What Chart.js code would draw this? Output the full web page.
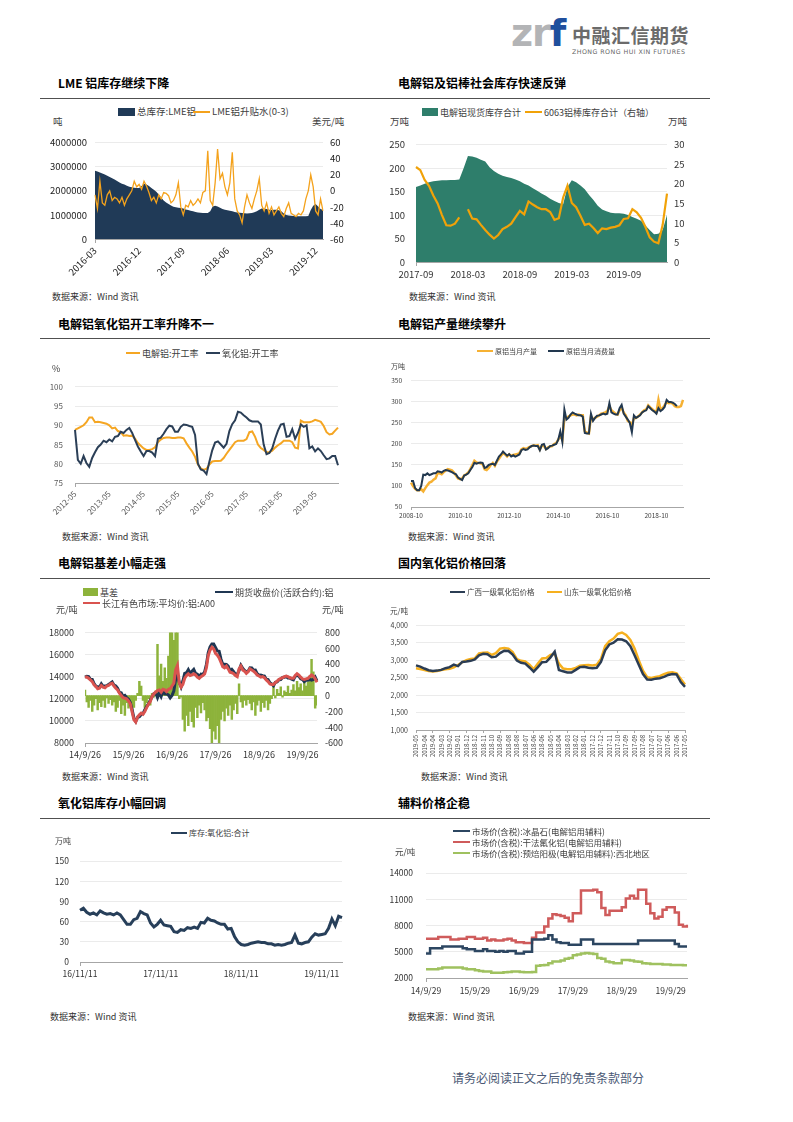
<!DOCTYPE html>
<html lang="zh-CN">
<head>
<meta charset="UTF-8">
<title>铝市场周报图表</title>
<style>
  body { margin: 0; background: #fff; font-family: "Noto Sans CJK SC", "Noto Sans", sans-serif; }
  #page { position: relative; width: 793px; height: 1122px; overflow: hidden; }
  .t { position: absolute; font-size: 12px; font-weight: 700; color: #000; line-height: 1; white-space: nowrap; }
  .rule { position: absolute; left: 40px; width: 670px; height: 1px; background: #505050; }
  .src { position: absolute; font-size: 9px; color: #333; line-height: 1; white-space: nowrap; }
  .u, .lg { position: absolute; color: #404040; line-height: 1; white-space: nowrap; }
  .lg { display: flex; align-items: center; }
  .sw { display: inline-block; margin-right: 2px; }
  canvas { position: absolute; }
  #zrf { position: absolute; left: 511px; top: 14px; font: bold 38px "DejaVu Sans", sans-serif; line-height: 38px; letter-spacing: -1px; }
  #zrf .g { color: #b3b4b6; } #zrf .b { color: #1f4f9d; }
  #cn { position: absolute; left: 572px; top: 25px; font-size: 19px; font-weight: 700; color: #6b6b6b; line-height: 1; letter-spacing: 0.5px; }
  #en { position: absolute; left: 572px; top: 48px; font: 6.3px "DejaVu Sans", sans-serif; color: #666; letter-spacing: 0.45px; white-space: nowrap; }
  #foot { position: absolute; left: 452px; top: 1072px; font-size: 12px; color: #4a5874; line-height: 1; }
</style>
</head>
<body>
<div id="page">
  <div id="zrf"><span class="g">zr</span><span class="b">f</span></div>
  <div id="cn">中融汇信期货</div>
  <div id="en">ZHONG RONG HUI XIN FUTURES</div>

  <div class="t" style="left:58px;top:77px">LME 铝库存继续下降</div>
  <div class="t" style="left:398px;top:77px">电解铝及铝棒社会库存快速反弹</div>
  <div class="rule" style="top:98px"></div>
  <div class="src" style="left:52px;top:292px">数据来源：Wind 资讯</div>
  <div class="src" style="left:409px;top:292px">数据来源：Wind 资讯</div>

  <div class="t" style="left:58px;top:318px">电解铝氧化铝开工率升降不一</div>
  <div class="t" style="left:398px;top:318px">电解铝产量继续攀升</div>
  <div class="rule" style="top:338px"></div>
  <div class="src" style="left:62px;top:532px">数据来源：Wind 资讯</div>
  <div class="src" style="left:408px;top:532px">数据来源：Wind 资讯</div>

  <div class="t" style="left:58px;top:557px">电解铝基差小幅走强</div>
  <div class="t" style="left:398px;top:557px">国内氧化铝价格回落</div>
  <div class="rule" style="top:578px"></div>
  <div class="src" style="left:62px;top:772px">数据来源：Wind 资讯</div>
  <div class="src" style="left:421px;top:772px">数据来源：Wind 资讯</div>

  <div class="t" style="left:58px;top:797px">氧化铝库存小幅回调</div>
  <div class="t" style="left:398px;top:797px">辅料价格企稳</div>
  <div class="rule" style="top:818px"></div>
  <div class="src" style="left:50px;top:1012px">数据来源：Wind 资讯</div>
  <div class="src" style="left:408px;top:1012px">数据来源：Wind 资讯</div>

  <div id="foot">请务必阅读正文之后的免责条款部分</div>

  <canvas id="c1"></canvas><canvas id="c2"></canvas><canvas id="c3"></canvas><canvas id="c4"></canvas>
  <canvas id="c5"></canvas><canvas id="c6"></canvas><canvas id="c7"></canvas><canvas id="c8"></canvas>
</div>

<script src="https://cdn.jsdelivr.net/npm/chart.js"></script>
<script>
// ---------- category helpers ----------
const pad2 = n => String(n).padStart(2, '0');
function monthly(y, m, n, fmt) {
  const out = [];
  for (let i = 0; i < n; i++) { const k = m - 1 + i; out.push(fmt(y + Math.floor(k / 12), k % 12 + 1)); }
  return out;
}
function halfMonthly(y, m, n, fmt) {
  const out = [];
  for (let i = 0; i < n; i++) { const k = m - 1 + Math.floor(i / 2); out.push(fmt(y + Math.floor(k / 12), k % 12 + 1, i % 2)); }
  return out;
}

// ---------- 1. LME 铝库存 ----------
const lmeCats = halfMonthly(2016, 3, 94, (y, m) => y + '-' + pad2(m));
const lmeTicks = ['2016-03', '2016-12', '2017-09', '2018-06', '2019-03', '2019-12'];
const lmeStock = [2830000,2800000,2760000,2720000,2680000,2630000,2580000,2520000,2470000,2410000,
  2350000,2300000,2260000,2210000,2170000,2150000,2130000,2120000,2120000,2200000,
  2300000,2260000,2200000,2120000,2050000,1960000,1850000,1720000,1600000,1520000,
  1450000,1390000,1340000,1320000,1300000,1290000,1270000,1230000,1200000,1170000,
  1150000,1120000,1100000,1090000,1080000,1080000,1080000,1150000,1350000,1380000,
  1350000,1300000,1250000,1220000,1190000,1170000,1150000,1120000,1100000,1090000,
  1080000,1070000,1060000,1070000,1080000,1110000,1150000,1220000,1270000,1260000,
  1250000,1220000,1200000,1210000,1220000,1190000,1150000,1060000,1000000,980000,
  970000,960000,950000,950000,950000,945000,940000,960000,1200000,1380000,
  1450000,1350000,1250000,1200000];
const lmeSpread = [-5,-22,12,-15,-18,-5,0,-12,-8,-10, -15,-8,-18,-10,-5,0,12,5,8,2,
  12,6,-2,-12,-8,-15,-5,-10,-2,-3, -6,-15,-12,-5,10,-20,-30,-18,-20,-12,
  -18,-15,-10,-15,-2,0,50,-12,-18,10, 52,15,22,5,-5,10,48,-10,-25,-30,
  -40,-20,-5,-15,-22,-10,0,15,-18,-25, -15,-28,-20,-30,-25,-20,-28,-32,-22,-15,
  -28,-30,-32,-28,-30,-25,-10,0,20,5, -25,-30,-10,-25];

// ---------- 2. 社会库存 ----------
const socCats = halfMonthly(2017, 9, 59, (y, m) => y + '-' + pad2(m));
const socTicks = ['2017-09', '2018-03', '2018-09', '2019-03', '2019-09'];
const socStock = [160,163,167,170,172,173,174,174,175,175, 176,200,226,225,222,218,214,202,194,188,
  184,181,179,176,172,167,163,157,152,146, 141,135,130,126,123,160,174,170,163,155,
  143,132,120,112,108,105,104,104,103,100, 96,92,88,78,68,59,60,68,100];
const rodStock = [24.3,23.5,21,19.5,17,15,12,9.4,9.3,9.8, 11.4,null,13.5,11.1,10.9,9.5,8.2,7.0,6.0,6.9,
  8.4,9.0,9.8,11.5,13.1,12.2,15.5,14.7,14.0,13.5, 13.5,12.8,10.8,11.2,16.5,19.5,15.1,14.0,11.8,9.5,
  9.8,8.7,7.4,8.6,8.4,8.8,9.0,9.4,11.0,11.2, 13.5,12.7,11.3,9.0,6.3,5.2,4.8,9.5,17.5];

// ---------- 3. 开工率 ----------
const rateCats = monthly(2012, 5, 93, (y, m) => y + '-' + pad2(m));
const rateTicks = ['2012-05','2013-05','2014-05','2015-05','2016-05','2017-05','2018-05','2019-05'];
const smeltRate = [88.8,89.2,89.6,90.0,90.8,92.0,92.0,90.8,90.9,90.8, 90.6,90.4,90.0,89.2,89.4,88.5,88.2,87.3,87.4,87.2,
  87.3,86.5,85.4,84.7,84.0,83.6,83.6,83.8,84.3,85.6, 86.3,86.7,86.8,86.8,86.7,86.7,86.8,86.8,86.6,85.3,
  84.2,83.2,81.8,79.8,78.8,78.4,78.7,79.8,80.6,80.7, 80.7,80.8,81.5,82.6,83.6,84.6,85.6,86.0,86.0,86.0,
  86.4,88.2,88.4,87.0,85.0,84.1,83.6,83.0,83.0,83.4, 84.2,84.8,85.3,86.0,86.0,86.0,85.6,84.2,84.0,91.2,
  90.8,90.8,90.8,91.0,91.4,91.2,90.9,89.8,88.2,87.6, 87.8,88.6,89.4];
const aluminaRate = [88.8,81.0,80.0,82.0,80.2,79.2,81.5,83.0,84.3,85.0, 86.0,85.6,86.3,85.8,87.0,87.2,88.3,88.0,88.8,89.3,
  88.0,86.2,84.5,83.2,82.0,83.3,83.3,82.9,82.0,86.5, 86.8,87.8,89.0,89.9,89.7,88.3,88.3,89.6,90.2,90.1,
  89.8,89.6,87.5,80.0,78.5,78.2,77.3,80.5,83.5,85.5, 85.8,85.0,84.2,85.2,88.5,90.3,91.3,93.5,93.3,92.6,
  92.0,91.3,91.0,91.0,91.0,90.2,85.0,82.5,82.8,84.0, 86.5,88.6,90.2,90.4,87.0,87.2,89.0,86.5,88.0,90.2,
  89.6,90.0,84.0,84.5,83.2,84.0,83.3,82.2,81.2,81.4, 82.0,82.0,79.6];

// ---------- 4. 产量 / 消费量 ----------
const prodCats = monthly(2008, 10, 134, (y, m) => y + '-' + pad2(m));
const prodTicks = ['2008-10','2010-10','2012-10','2014-10','2016-10','2018-10'];
const prodConsume = [112,112,95,90,90,100,127,126,130,126, 128,130,130,135,134,132,136,138,137,135,
  133,130,128,120,117,114,125,127,130,138, 145,155,153,155,156,155,143,145,150,152,
  153,150,160,170,175,182,177,172,176,170, 173,170,172,175,185,188,186,187,192,195,
  196,195,195,185,198,200,187,190,195,196, 198,200,210,230,205,282,258,262,270,275,
  272,270,268,268,265,226,225,225,272,255, 262,267,268,270,272,270,272,297,275,272,
  270,270,285,293,272,265,258,250,228,268, 262,265,268,275,278,280,290,285,280,277,
  272,285,278,282,288,305,300,300,298,295, 290,null,null,null];
const prodOutput = [108,100,93,90,90,92,87,95,102,108, 110,115,118,130,130,128,133,137,140,139,
  137,132,125,118,116,118,125,128,132,140, 150,160,156,155,154,152,140,138,143,150,
  155,148,158,165,172,178,175,170,175,172, 174,175,176,178,187,190,188,190,193,195,
  197,196,197,187,196,195,188,192,194,195, 200,202,210,220,210,262,262,265,268,270,
  270,268,270,268,268,230,227,225,265,258, 262,265,268,272,273,275,278,290,280,276,
  272,270,280,286,275,268,255,252,245,262, 262,265,270,275,280,282,292,287,283,278,
  275,305,282,285,292,300,297,298,296,290, 288,288,290,305];

// ---------- 5. 基差 ----------
const basisCats = halfMonthly(2014, 9, 129, (y, m, h) => h
  ? (m === 12 ? (y + 1) % 100 + '/1/11' : y % 100 + '/' + (m + 1) + '/11')
  : y % 100 + '/' + m + '/26');
const basisTicks = ['14/9/26','15/9/26','16/9/26','17/9/26','18/9/26','19/9/26'];
const basisDiff = [70,-80,-150,-60,-200,-120,-40,-180,-90,-140, -60,-150,-30,-100,-50,-120,-80,-200,-150,-60,
  -230,-120,-250,-90,-160,-100,-210,-150,-60,30, 180,120,-60,-150,-90,-40,-120,30,-20,60,
  650,250,400,180,350,220,500,820,850,700, 850,900,-40,-20,-300,-450,-250,-380,-200,-330,
  -400,-150,-280,-120,-220,-90,-180,-320,-280,-420, -600,-450,-550,-380,-600,-300,-200,-320,-160,-250,
  -120,-300,-180,-100,-230,150,-80,-150,-60,-120, -50,-100,-180,-80,-250,-120,-60,-200,-90,-150,
  -60,-180,-100,-40,120,-30,80,30,110,-20, 60,40,120,30,70,140,60,180,100,150,
  60,200,120,170,250,460,300,-160,-120];
const futuresPrice = [13950,14030,14000,13760,13750,13370,13140,13080,13040,13340, 13110,13150,13180,13300,13400,13520,13230,13150,12950,12560,
  12530,12220,12300,12090,11960,11650,11010,10250,9960,10320, 10370,10580,10660,11000,11290,11540,11870,12170,12470,12540,
  12100,12550,12200,12670,12450,12430,12350,12080,12300,12700, 13750,14100,13490,13070,13600,14300,14350,14630,14300,14480,
  14650,14300,14230,13970,14220,14190,14430,15120,16180,16700, 16950,16950,16650,16330,16300,15600,15100,15120,15110,14950,
  14520,14650,14450,14200,14230,14550,15030,14750,14560,14420, 14500,14800,14780,14580,14600,14270,14110,14150,14090,14050,
  13760,13730,13450,13340,13180,13480,13520,13720,13740,13920, 13940,14010,13880,13870,13780,13710,14040,14090,14050,13800,
  13740,13550,13680,13680,13750,13690,13750,13960,13620];
const spotPrice = [14000,13950,13850,13700,13550,13250,13100,12900,12950,13200, 13050,13000,13150,13200,13350,13400,13150,12950,12800,12500,
  12300,12100,12050,12000,11800,11550,10800,10100,9900,10350, 10550,10700,10600,10850,11200,11500,11750,12200,12450,12600,
  12750,12800,12600,12850,12800,12650,12850,12900,13150,13400, 14600,15000,13450,13050,13300,13850,14100,14250,14100,14150,
  14250,14150,13950,13850,14000,14100,14250,14800,15900,16400, 16650,16500,16100,15950,15700,15300,14900,14800,14950,14700,
  14400,14350,14270,14100,14000,14700,14950,14600,14500,14300, 14450,14700,14600,14500,14350,14150,14050,13950,14000,13900,
  13700,13550,13350,13300,13300,13450,13600,13750,13850,13900, 14000,14050,14000,13900,13850,13850,14100,14270,14150,13950,
  13800,13750,13800,13850,14000,14150,14050,13800,13500];

// ---------- 6. 氧化铝价格 ----------
const aluminaDates = ['2019-05','2019-04','2019-04','2019-03','2019-02','2019-01','2018-12','2018-12','2018-11','2018-10',
  '2018-09','2018-08','2018-08','2018-07','2018-06','2018-06','2018-05','2018-04','2018-03','2018-02',
  '2018-01','2017-12','2017-12','2017-11','2017-10','2017-09','2017-09','2017-08','2017-07','2017-07',
  '2017-06','2017-06','2017-05'];
const gxPrice = [2850,2815,2760,2710,2690,2700,2720,2770,2800,2870, 2830,2950,2960,2980,3020,3140,3180,3170,3085,3100,
  3200,3270,3260,3160,2990,2925,2900,2790,2670,2800, 2940,2950,3080,3240,2720,2680,2645,2645,2720,2800,
  2810,2780,2765,2780,2950,3280,3450,3500,3600,3590, 3540,3400,3140,2870,2600,2445,2440,2470,2480,2520,
  2575,2600,2590,2370,2235];
const sdPrice = [2765,2745,2720,2690,2675,2690,2720,2740,2750,2790, 2860,2940,3000,3030,3050,3190,3210,3215,3150,3200,
  3330,3350,3330,3230,3030,2980,2960,2870,2740,2900, 3050,3060,3150,3180,2900,2760,2740,2740,2780,2840,
  2855,2860,2850,2870,3030,3400,3540,3620,3750,3790, 3720,3580,3330,3000,2700,2510,2490,2520,2540,2600,
  2640,2650,2620,2460,2305];

// ---------- 7. 氧化铝库存 ----------
const stockCats = halfMonthly(2016, 11, 79, (y, m, h) => y % 100 + '/' + m + '/' + (h ? 26 : 11));
const stockTicks = ['16/11/11','17/11/11','18/11/11','19/11/11'];
const aluminaStock = [77,80,74,71,73,70,76,73,71,72, 70,73,70,63,56,56,63,65,75,72,
  70,58,52,56,62,55,54,53,45,44, 48,47,51,50,52,50,59,58,65,62,
  61,58,56,56,49,50,38,30,26,25, 26,28,29,30,29,29,27,27,25,26,
  25,26,28,29,40,28,27,29,30,37, 42,40,41,42,50,64,54,68,66];

// ---------- 8. 辅料价格 ----------
const auxCats = monthly(2014, 9, 65, (y, m) => y % 100 + '/' + m + '/29');
const auxTicks = ['14/9/29','15/9/29','16/9/29','17/9/29','18/9/29','19/9/29'];
const cryolitePrice = [4800,5400,5400,5400,5600,5600,5600,5600,5600,5400, 5300,5300,5100,5100,5300,5100,5100,5000,5100,5000,
  5100,5100,4800,4800,5000,5000,6400,6400,6400,6500, 6900,6400,6100,6000,6000,5800,5800,5800,6400,6400,
  6400,5900,5900,5900,5900,5900,5900,5900,5900,5900, 5900,5900,6300,6300,6300,6300,6300,6300,6300,6300,
  6300,5900,5600,5600,5600];
const fluoridePrice = [6500,6500,6500,6700,6700,6700,6400,6400,6500,6500, 6700,6700,6500,6500,6600,6300,6400,6300,6300,6400,
  6500,6300,6100,6100,6000,6000,6600,7200,7200,7900, 8800,9300,9200,9100,8900,8500,9400,9400,12000,12000,
  12000,12100,11800,10000,9200,9700,9700,9700,10100,11100, 11400,11100,12100,12100,10500,9400,8800,9000,9800,10100,
  10100,9500,8100,7900,8100];
const anodePrice = [3000,3000,3000,3100,3200,3200,3200,3200,3200,3100, 3000,3000,2900,2800,2750,2750,2600,2600,2600,2650,
  2700,2750,2750,2700,2650,2650,2700,3400,3450,3500, 3700,3900,3900,4000,4200,4300,4600,4700,4800,4850,
  4800,4750,4300,4200,3900,3800,3700,3700,4050,4050, 4000,3900,3850,3700,3650,3600,3600,3600,3550,3550,
  3500,3500,3480,3450,3450];

// ---------- drawing ----------
const FONT = '"Noto Sans CJK SC", "Noto Sans", sans-serif';
Chart.defaults.font.family = FONT;
const page = document.getElementById('page');

function place(id, b) {
  const cv = document.getElementById(id);
  const L = b.left - b.yl, T = b.top - 8;
  const W = b.right + b.yr - L, H = b.bottom + b.xb - T;
  cv.width = W; cv.height = H;
  Object.assign(cv.style, { left: L + 'px', top: T + 'px', width: W + 'px', height: H + 'px' });
  return cv;
}

function xAxis(labels, show, o) {
  const ok = i => show(labels[i], i);
  return {
    type: 'category', offset: false,
    grid: { drawOnChartArea: false, drawTicks: true, tickLength: o.tl || 4, offset: false,
      tickColor: ctx => ok(ctx.index) ? '#a6a6a6' : 'rgba(0,0,0,0)' },
    border: { display: true, color: '#a6a6a6' },
    ticks: { autoSkip: false, maxRotation: o.rot || 0, minRotation: o.rot || 0, padding: o.pad || 2,
      color: o.color || '#333', font: { size: o.size },
      callback: v => ok(v) ? labels[v] : null },
    afterFit: s => { s.height = o.h; }
  };
}

function yAxis(min, max, step, o) {
  return {
    type: 'linear', position: o.right ? 'right' : 'left', min, max,
    grid: { display: !o.right, color: '#ebebeb', drawTicks: false },
    border: { display: false },
    ticks: { stepSize: step, padding: o.pad, color: o.color || '#333', font: { size: o.size },
      callback: o.fmt || (v => String(v)) },
    afterFit: s => { s.width = o.w; }
  };
}

function draw(id, b, datasets, labels, scales, hasRight) {
  new Chart(place(id, b), {
    type: 'line',
    data: { labels, datasets },
    options: {
      responsive: false, animation: false, devicePixelRatio: 1,
      layout: { padding: { top: 8, left: 0, bottom: 0, right: hasRight ? 0 : b.yr } },
      plugins: { legend: { display: false }, tooltip: { enabled: false } },
      elements: { point: { radius: 0 }, line: { tension: 0 } },
      scales
    }
  });
}

function text(cls, x, y, size, str) {
  const d = document.createElement('div');
  d.className = cls; d.textContent = str;
  Object.assign(d.style, { left: x + 'px', top: (y - size / 2 - 1) + 'px', fontSize: size + 'px' });
  page.appendChild(d);
}
function legend(x, y, kind, color, w, size, str) {
  const d = document.createElement('div');
  d.className = 'lg';
  Object.assign(d.style, { left: x + 'px', top: (y - size / 2 - 1) + 'px', fontSize: size + 'px', height: (size + 2) + 'px' });
  const sw = document.createElement('span');
  sw.className = 'sw';
  Object.assign(sw.style, { width: w + 'px', height: kind === 'box' ? '8px' : '2.5px', background: color });
  d.appendChild(sw);
  d.appendChild(document.createTextNode(str));
  page.appendChild(d);
}

// 1
const b1 = { left: 95, top: 137, right: 323, bottom: 239, yl: 55, yr: 32, xb: 42 };
draw('c1', b1, [
  { label: 'LME铝升贴水(0-3)', data: lmeSpread, yAxisID: 'y1', borderColor: '#f4a21c', borderWidth: 1.3, fill: false, order: 1 },
  { label: '总库存:LME铝', data: lmeStock, yAxisID: 'y', borderWidth: 0, borderColor: '#203a57', backgroundColor: '#203a57', fill: 'origin', order: 2 }
], lmeCats, {
  x: xAxis(lmeCats, (l, i) => i % 2 === 0 && lmeTicks.includes(l), { rot: 45, size: 9.5, h: b1.xb, color: '#222' }),
  y: yAxis(0, 4000000, 1000000, { w: b1.yl, pad: 8, size: 9.5, color: '#222' }),
  y1: yAxis(-60, 60, 20, { right: true, w: b1.yr, pad: 7, size: 9.5, color: '#222' })
}, true);
legend(118, 112, 'box', '#203a57', 17, 9.5, '总库存:LME铝');
legend(193, 112, 'line', '#f4a21c', 17, 9.5, 'LME铝升贴水(0-3)');
text('u', 53, 123, 9.5, '吨');
text('u', 312, 123, 9.5, '美元/吨');

// 2
const b2 = { left: 416, top: 136, right: 667, bottom: 262, yl: 35, yr: 25, xb: 20 };
draw('c2', b2, [
  { label: '6063铝棒库存合计（右轴）', data: rodStock, yAxisID: 'y1', borderColor: '#f1a208', borderWidth: 2.2, fill: false, order: 1 },
  { label: '电解铝现货库存合计', data: socStock, yAxisID: 'y', borderWidth: 0, borderColor: '#2e7e6b', backgroundColor: '#2e7e6b', fill: 'origin', order: 2 }
], socCats, {
  x: xAxis(socCats, (l, i) => i % 2 === 0 && socTicks.includes(l), { size: 9.5, h: b2.xb, pad: 3 }),
  y: yAxis(0, 250, 50, { w: b2.yl, pad: 11, size: 9.5 }),
  y1: yAxis(0, 30, 5, { right: true, w: b2.yr, pad: 7, size: 9.5 })
}, true);
legend(422, 112, 'box', '#2e7e6b', 16, 9, '电解铝现货库存合计');
legend(525, 112, 'line', '#f1a208', 17, 9, '6063铝棒库存合计（右轴）');
text('u', 390, 123, 9.5, '万吨');
text('u', 668, 123, 9.5, '万吨');

// 3
const b3 = { left: 75, top: 378, right: 338, bottom: 483, yl: 35, yr: 10, xb: 40 };
draw('c3', b3, [
  { label: '氧化铝:开工率', data: aluminaRate, borderColor: '#2b3f57', borderWidth: 2, fill: false, order: 1 },
  { label: '电解铝:开工率', data: smeltRate, borderColor: '#f5a623', borderWidth: 2, fill: false, order: 2 }
], rateCats, {
  x: xAxis(rateCats, l => rateTicks.includes(l), { rot: 45, size: 8, h: b3.xb, color: '#595959' }),
  y: yAxis(75, 100, 5, { w: b3.yl, pad: 12, size: 8, color: '#595959' })
}, false);
legend(126, 353, 'line', '#f5a623', 14, 9, '电解铝:开工率');
legend(206, 353, 'line', '#2b3f57', 14, 9, '氧化铝:开工率');
text('u', 52, 369, 9, '%');

// 4
const b4 = { left: 411, top: 376, right: 683, bottom: 507, yl: 30, yr: 10, xb: 16 };
draw('c4', b4, [
  { label: '原铝当月消费量', data: prodConsume, borderColor: '#22384f', borderWidth: 2, fill: false, order: 1 },
  { label: '原铝当月产量', data: prodOutput, borderColor: '#f6b133', borderWidth: 2.5, fill: false, order: 2 }
], prodCats, {
  x: xAxis(prodCats, l => prodTicks.includes(l), { size: 6.5, h: b4.xb, tl: 3, color: '#404040' }),
  y: yAxis(50, 350, 50, { w: b4.yl, pad: 9, size: 6.5, color: '#404040' })
}, false);
legend(477, 351, 'line', '#f6b133', 16, 7, '原铝当月产量');
legend(548, 351, 'line', '#22384f', 16, 7, '原铝当月消费量');
text('u', 391, 367, 7, '万吨');

// 5
const b5 = { left: 85, top: 624, right: 317, bottom: 743, yl: 45, yr: 32, xb: 20 };
draw('c5', b5, [
  { label: '长江有色市场:平均价:铝:A00', data: spotPrice, yAxisID: 'y', borderColor: '#d9534f', borderWidth: 3, fill: false, order: 1 },
  { label: '期货收盘价(活跃合约):铝', data: futuresPrice, yAxisID: 'y', borderColor: '#1f3652', borderWidth: 3, fill: false, order: 2 },
  { type: 'bar', label: '基差', data: basisDiff, yAxisID: 'y1', backgroundColor: '#8db33b', borderWidth: 0,
    barPercentage: 1, categoryPercentage: 1, order: 3 }
], basisCats, {
  x: xAxis(basisCats, l => basisTicks.includes(l), { size: 9, h: b5.xb }),
  y: yAxis(8000, 18000, 2000, { w: b5.yl, pad: 11, size: 9 }),
  y1: yAxis(-600, 800, 200, { right: true, w: b5.yr, pad: 8, size: 9 })
}, true);
legend(83, 592, 'box', '#8db33b', 15, 9, '基差');
legend(215, 592, 'line', '#1f3652', 18, 9, '期货收盘价(活跃合约):铝');
legend(83, 603, 'line', '#d9534f', 17, 9, '长江有色市场:平均价:铝:A00');
text('u', 56, 610, 9, '元/吨');
text('u', 322, 610, 9, '元/吨');

// 6
const b6 = { left: 416, top: 621, right: 685, bottom: 730, yl: 32, yr: 10, xb: 40 };
const aluminaCats = gxPrice.map((_, i) => aluminaDates[Math.floor(i / 2)]);
draw('c6', b6, [
  { label: '广西一级氧化铝价格', data: gxPrice, borderColor: '#2b3d54', borderWidth: 2.5, fill: false, order: 1 },
  { label: '山东一级氧化铝价格', data: sdPrice, borderColor: '#f6b01e', borderWidth: 2.5, fill: false, order: 2 }
], aluminaCats, {
  x: xAxis(aluminaCats, (l, i) => i % 2 === 0, { rot: 90, size: 6, h: b6.xb, tl: 3, color: '#404040' }),
  y: yAxis(1000, 4000, 500, { w: b6.yl, pad: 8, size: 7, color: '#404040', fmt: v => v.toLocaleString('en-US') })
}, false);
legend(450, 592, 'line', '#2b3d54', 15, 7.5, '广西一级氧化铝价格');
legend(547, 592, 'line', '#f6b01e', 15, 7.5, '山东一级氧化铝价格');
text('u', 390, 612, 7.5, '元/吨');

// 7
const b7 = { left: 80, top: 853, right: 342, bottom: 962, yl: 30, yr: 10, xb: 20 };
draw('c7', b7, [
  { label: '库存:氧化铝:合计', data: aluminaStock, borderColor: '#273f5a', borderWidth: 3, fill: false }
], stockCats, {
  x: xAxis(stockCats, l => stockTicks.includes(l), { size: 8.5, h: b7.xb, pad: 3 }),
  y: yAxis(0, 150, 30, { w: b7.yl, pad: 11, size: 8.5 })
}, false);
legend(171, 833, 'line', '#273f5a', 16, 8, '库存:氧化铝:合计');
text('u', 55, 842, 8, '万吨');

// 8
const b8 = { left: 426, top: 863, right: 687, bottom: 978, yl: 40, yr: 10, xb: 20 };
draw('c8', b8, [
  { label: '市场价(含税):冰晶石(电解铝用辅料)', data: cryolitePrice, borderColor: '#2c4661', borderWidth: 2.5, stepped: true, fill: false },
  { label: '市场价(含税):干法氟化铝(电解铝用辅料)', data: fluoridePrice, borderColor: '#cf5b5b', borderWidth: 2.5, stepped: true, fill: false },
  { label: '市场价(含税):预焙阳极(电解铝用辅料):西北地区', data: anodePrice, borderColor: '#9fc15f', borderWidth: 2.5, stepped: true, fill: false }
], auxCats, {
  x: xAxis(auxCats, l => auxTicks.includes(l), { size: 8.5, h: b8.xb, pad: 4 }),
  y: yAxis(2000, 14000, 3000, { w: b8.yl, pad: 13, size: 8.5 })
}, false);
legend(453, 831, 'line', '#2c4661', 17, 8.5, '市场价(含税):冰晶石(电解铝用辅料)');
legend(453, 842, 'line', '#cf5b5b', 17, 8.5, '市场价(含税):干法氟化铝(电解铝用辅料)');
legend(453, 853, 'line', '#9fc15f', 17, 8.5, '市场价(含税):预焙阳极(电解铝用辅料):西北地区');
text('u', 395, 852, 8.5, '元/吨');
</script>
</body>
</html>
